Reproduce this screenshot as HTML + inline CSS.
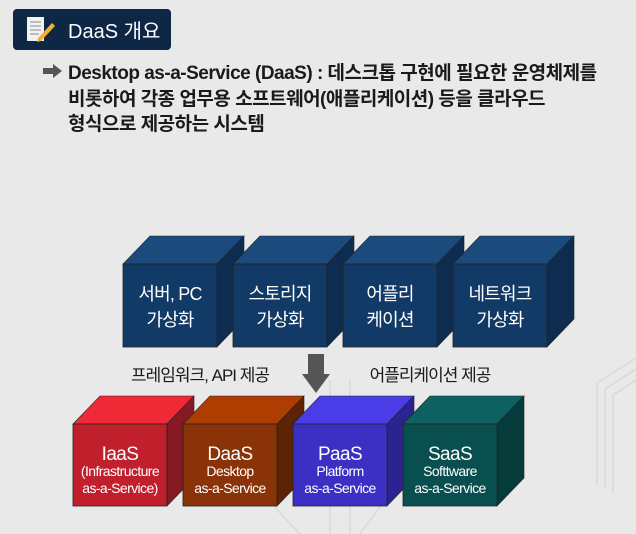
<!DOCTYPE html>
<html><head><meta charset="utf-8">
<style>
html,body{margin:0;padding:0;}
body{width:636px;height:534px;overflow:hidden;background:#e9e9e9;font-family:"Liberation Sans","Noto Sans CJK KR",sans-serif;}
svg{display:block}
</style></head>
<body>
<svg width="636" height="534" viewBox="0 0 636 534" xmlns="http://www.w3.org/2000/svg">
  <rect x="0" y="0" width="636" height="534" fill="#e9e9e9"/>
  <g stroke="#d9d9d9" stroke-width="1.5" fill="none">
    <polyline points="597,485 597,383 636,358"/>
    <polyline points="605,489 605,389 636,369"/>
    <polyline points="613,493 613,395 636,380"/>
    <line x1="330" y1="380" x2="330" y2="534"/>
    <line x1="350" y1="380" x2="350" y2="534"/>
    <line x1="230" y1="460" x2="300" y2="534"/>
    <line x1="400" y1="480" x2="360" y2="534"/>
  </g>

  <g>
    <rect x="13" y="9" width="158" height="41" rx="4" fill="#0e2744"/>
    <g>
      <rect x="27" y="17" width="17" height="24" fill="#f2f2f2"/>
      <g stroke="#9a9a9a" stroke-width="1.2"><line x1="30" y1="22" x2="41" y2="22"/><line x1="30" y1="26" x2="41" y2="26"/><line x1="30" y1="30" x2="41" y2="30"/><line x1="30" y1="34" x2="39" y2="34"/></g>
      <polygon points="38,38 52,23 55,26 41,41 37,42" fill="#f2b134"/>
    </g>
    <text x="68" y="38" font-size="20" fill="#ffffff">DaaS 개요</text>
  </g>

  <g fill="#1a1a1a" font-size="19" font-weight="bold" letter-spacing="-0.5">
    <polygon points="43,68 53,68 53,64 62,71 53,78 53,74 43,74" fill="#555"/>
    <text x="68" y="79">Desktop as-a-Service (DaaS) : 데스크톱 구현에 필요한 운영체제를</text>
    <text x="68" y="105">비롯하여 각종 업무용 소프트웨어(애플리케이션) 등을 클라우드</text>
    <text x="68" y="130">형식으로 제공하는 시스템</text>
  </g>

  <g id="cubes"></g>

  <polygon points="308,354 324,354 324,374 330,374 316,393 302,374 308,374" fill="#555"/>
  <text x="200" y="381" font-size="17" text-anchor="middle" fill="#1a1a1a" letter-spacing="-1">프레임워크, API 제공</text>
  <text x="430" y="381" font-size="17" text-anchor="middle" fill="#1a1a1a" letter-spacing="-1">어플리케이션 제공</text>
</svg>
<script>
const topLabels = [["서버, PC","가상화"],["스토리지","가상화"],["어플리","케이션"],["네트워크","가상화"]];
const bottomLabels = [["IaaS","(Infrastructure","as-a-Service)"],["DaaS","Desktop","as-a-Service"],["PaaS","Platform","as-a-Service"],["SaaS","Softtware","as-a-Service"]];
const NS="http://www.w3.org/2000/svg";
const g=document.getElementById('cubes');
function mk(tag,attrs,parent){const e=document.createElementNS(NS,tag);for(const k in attrs)e.setAttribute(k,attrs[k]);parent.appendChild(e);return e;}
function cube(x,y,w,h,dx,dy,cols,name){
  const c=mk('g',{},g);
  
  
  mk('polygon',{points:`${x},${y} ${x+dx},${y-dy} ${x+w+dx},${y-dy} ${x+w},${y}`,fill:cols[1],stroke:'#222','stroke-width':0.6},c);
  mk('polygon',{points:`${x+w},${y} ${x+w+dx},${y-dy} ${x+w+dx},${y+h-dy} ${x+w},${y+h}`,fill:cols[2],stroke:'#222','stroke-width':0.6},c);
  mk('rect',{x:x,y:y,width:w,height:h,fill:cols[0],stroke:'#222','stroke-width':0.8},c);
  return c;
}
const topCols=["#123a66","#1b4a7c","#0e2c50"];
topLabels.forEach((l,i)=>{
  const x=123+i*110;
  const c=cube(x,264,94,83,27,28,topCols,'top-cube-'+(i+1));
  l.forEach((t,j)=>{const tx=mk('text',{x:x+47,y:300+j*26,'font-size':18,'text-anchor':'middle',fill:'#fff','letter-spacing':'-0.8'},c);tx.textContent=t;});
});
const botCols=[["#c0202b","#ef2a36","#861921"],["#8a3308","#ae3d02","#5c2405"],["#3b2fc4","#4a3ce6","#2a2391"],["#0a4f4f","#0d6161","#063b3b"]];
bottomLabels.forEach((l,i)=>{
  const x=73+i*110;
  const c=cube(x,424,94,82,27,28,botCols[i],'bottom-cube-'+l[0].toLowerCase());
  l.forEach((t,j)=>{const tx=mk('text',{x:x+47,y:(j==0?460:476+(j-1)*17),'font-size':(j==0?19:14),'text-anchor':'middle',fill:'#fff','letter-spacing':'-0.6'},c);tx.textContent=t;});
});
</script>
</body></html>
